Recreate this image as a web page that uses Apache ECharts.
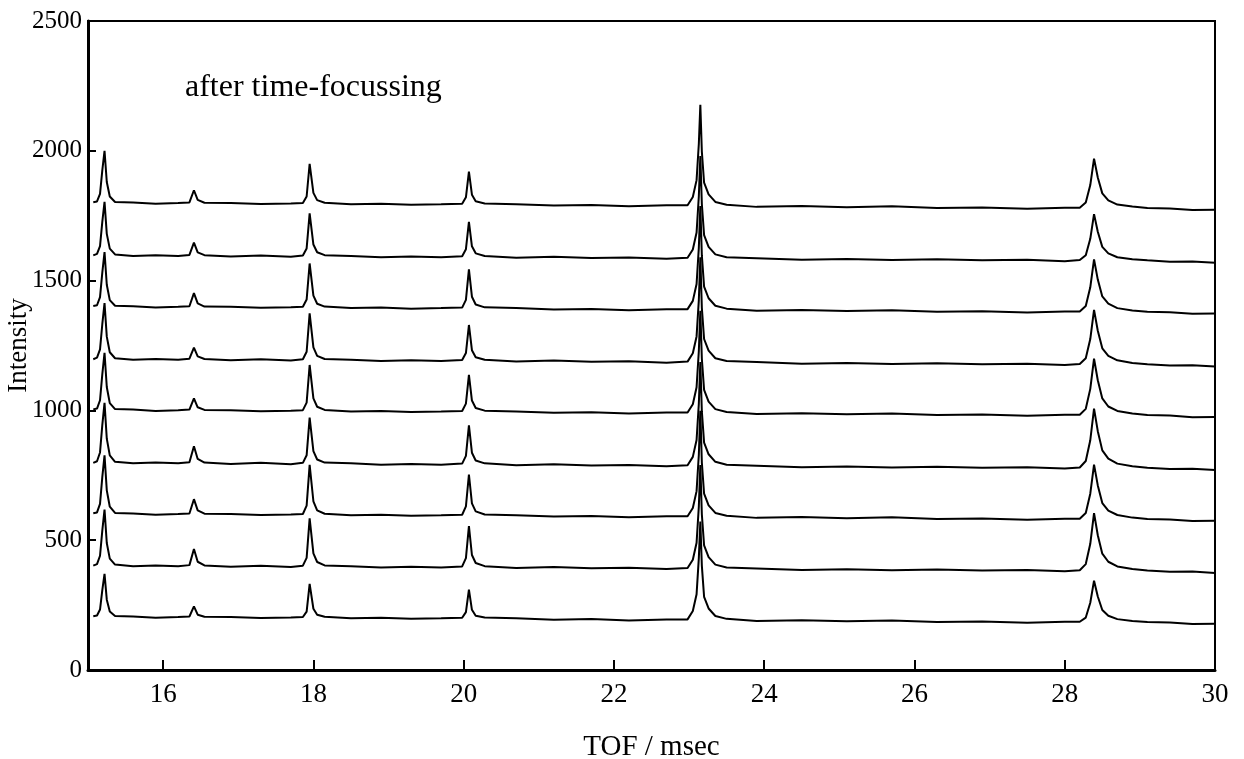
<!DOCTYPE html>
<html>
<head>
<meta charset="utf-8">
<script src="https://cdn.jsdelivr.net/npm/echarts@6/dist/echarts.min.js"></script>
<style>
  html, body { margin: 0; padding: 0; background: #fff; }
  #tofChart { width: 1244px; height: 759px; }
</style>
</head>
<body>
<div id="tofChart"></div>
<script>
// TOF grid (msec), shared by all nine scans
var tofGrid = [15.07, 15.12, 15.16, 15.19, 15.22, 15.25, 15.29, 15.36, 15.6, 15.9, 16.2, 16.35,
    16.41, 16.46, 16.55, 16.9, 17.3, 17.7, 17.86, 17.91, 17.95, 18.0, 18.05, 18.15, 18.5, 18.9, 19.3, 19.7, 19.98,
    20.03, 20.07, 20.11, 20.16, 20.28, 20.7, 21.2, 21.7, 22.2, 22.7, 22.98,
    23.05, 23.1, 23.13, 23.15, 23.17, 23.2, 23.26, 23.35, 23.5, 23.9, 24.5, 25.1, 25.7, 26.3, 26.9, 27.5, 28.0, 28.2,
    28.28, 28.34, 28.39, 28.44, 28.5, 28.58, 28.7, 28.9, 29.1, 29.4, 29.7, 30.0];

// intensities, bottom trace first
var scan1 = [207, 210, 233, 307, 370, 271, 225, 208, 206, 201, 204, 206,
    245, 213, 205, 204, 200, 202, 204, 225, 332, 236, 213, 205, 199, 201, 197, 199, 201,
    223, 310, 232, 209, 202, 199, 194, 196, 191, 195, 195,
    227, 292, 432, 572, 402, 282, 237, 208, 197, 189, 192, 188, 191, 185, 187, 182, 186, 186,
    202, 259, 344, 283, 231, 209, 196, 189, 185, 183, 177, 178];
var scan2 = [402, 408, 440, 536, 618, 489, 429, 406, 400, 403, 400, 404,
    466, 417, 403, 398, 402, 397, 402, 432, 584, 449, 416, 403, 400, 395, 398, 395, 399,
    431, 554, 443, 412, 400, 393, 397, 392, 394, 389, 393,
    425, 490, 630, 790, 600, 480, 435, 406, 395, 391, 385, 388, 384, 387, 383, 385, 380, 384,
    408, 486, 604, 519, 448, 417, 399, 389, 383, 378, 379, 374];
var scan3 = [604, 607, 640, 742, 827, 692, 629, 605, 603, 598, 601, 603,
    658, 615, 602, 601, 597, 599, 601, 633, 790, 650, 615, 602, 596, 598, 594, 596, 598,
    630, 753, 642, 611, 599, 596, 591, 593, 588, 592, 592,
    624, 689, 829, 999, 799, 679, 634, 605, 594, 586, 589, 585, 588, 582, 584, 579, 583, 583,
    605, 679, 791, 711, 643, 614, 597, 587, 582, 580, 574, 575];
var scan4 = [798, 804, 838, 942, 1029, 891, 827, 802, 796, 799, 796, 800,
    862, 813, 799, 794, 798, 793, 798, 827, 972, 843, 811, 799, 796, 791, 794, 791, 795,
    825, 942, 837, 807, 796, 789, 793, 788, 790, 785, 789,
    821, 886, 1026, 1186, 996, 876, 831, 802, 791, 787, 781, 784, 780, 783, 779, 781, 776, 780,
    805, 885, 1007, 920, 846, 814, 795, 785, 779, 774, 775, 770];
var scan5 = [1004, 1007, 1039, 1138, 1222, 1090, 1028, 1005, 1003, 998, 1001, 1003,
    1046, 1012, 1002, 1001, 997, 999, 1001, 1030, 1175, 1046, 1014, 1002, 996, 998, 994, 996, 998,
    1026, 1137, 1038, 1009, 999, 996, 991, 993, 988, 992, 992,
    1024, 1089, 1229, 1384, 1199, 1079, 1034, 1005, 994, 986, 989, 985, 988, 982, 984, 979, 983, 983,
    1006, 1083, 1199, 1116, 1046, 1015, 998, 988, 982, 980, 974, 975];
var scan6 = [1197, 1203, 1235, 1331, 1413, 1284, 1224, 1201, 1195, 1198, 1195, 1199,
    1242, 1208, 1198, 1193, 1197, 1192, 1197, 1226, 1374, 1243, 1210, 1198, 1195, 1190, 1193, 1190, 1194,
    1221, 1329, 1232, 1205, 1195, 1188, 1192, 1187, 1189, 1184, 1188,
    1220, 1285, 1425, 1590, 1395, 1275, 1230, 1201, 1190, 1186, 1180, 1183, 1179, 1182, 1178, 1180, 1175, 1179,
    1201, 1275, 1387, 1307, 1239, 1210, 1193, 1183, 1178, 1173, 1174, 1169];
var scan7 = [1402, 1405, 1436, 1530, 1610, 1484, 1425, 1403, 1401, 1396, 1399, 1401,
    1452, 1412, 1400, 1399, 1395, 1397, 1399, 1427, 1566, 1442, 1411, 1400, 1394, 1396, 1392, 1394, 1396,
    1426, 1543, 1438, 1408, 1397, 1394, 1389, 1391, 1386, 1390, 1390,
    1422, 1487, 1627, 1787, 1597, 1477, 1432, 1403, 1392, 1384, 1387, 1383, 1386, 1380, 1382, 1377, 1381, 1381,
    1402, 1474, 1582, 1504, 1439, 1411, 1394, 1385, 1380, 1378, 1372, 1373];
var scan8 = [1597, 1603, 1633, 1725, 1803, 1680, 1623, 1601, 1595, 1598, 1595, 1599,
    1646, 1609, 1598, 1593, 1597, 1592, 1597, 1624, 1759, 1639, 1609, 1598, 1595, 1590, 1593, 1590, 1594,
    1621, 1726, 1632, 1605, 1595, 1588, 1592, 1587, 1589, 1584, 1588,
    1620, 1685, 1825, 1980, 1795, 1675, 1630, 1601, 1590, 1586, 1580, 1583, 1579, 1582, 1578, 1580, 1575, 1579,
    1598, 1661, 1756, 1688, 1630, 1605, 1590, 1582, 1578, 1573, 1574, 1569];
var scan9 = [1802, 1805, 1834, 1924, 2000, 1880, 1824, 1803, 1801, 1796, 1799, 1801,
    1848, 1811, 1800, 1799, 1795, 1797, 1799, 1824, 1950, 1838, 1810, 1800, 1794, 1796, 1792, 1794, 1796,
    1821, 1920, 1831, 1806, 1797, 1794, 1789, 1791, 1786, 1790, 1790,
    1822, 1887, 2027, 2177, 1997, 1877, 1832, 1803, 1792, 1784, 1787, 1783, 1786, 1780, 1782, 1777, 1781, 1781,
    1801, 1868, 1970, 1897, 1836, 1809, 1793, 1785, 1780, 1778, 1772, 1773];

var xTicks = [16, 18, 20, 22, 24, 26, 28, 30];
var scans = [scan1, scan2, scan3, scan4, scan5, scan6, scan7, scan8, scan9];

var serif = 'Liberation Serif, Times New Roman, serif';

var chart = echarts.init(document.getElementById('tofChart'));

var series = scans.map(function (s, i) {
    return {
        name: 'scan' + (i + 1),
        type: 'line',
        showSymbol: false,
        smooth: false,
        lineStyle: { color: '#000', width: 2 },
        data: s.map(function (v, j) { return [tofGrid[j], v]; })
    };
});

var option = {
    animation: false,
    backgroundColor: '#fff',
    title: {
        text: 'after time-focussing',
        left: 180,
        top: 67,
        textStyle: { fontFamily: serif, fontSize: 32, fontWeight: 'normal', color: '#000' }
    },
    grid: {
        left: 88,
        right: 29,
        top: 21,
        bottom: 89,
        containLabel: false,
        outerBoundsMode: 'none',
        show: true,
        borderColor: '#000',
        borderWidth: 2
    },
    xAxis: {
        type: 'value',
        min: 15,
        max: 30,
        name: 'TOF / msec',
        nameLocation: 'middle',
        nameGap: 63,
        nameMoveOverlap: false,
        nameTextStyle: { fontFamily: serif, fontSize: 29, color: '#000' },
        axisLine: { lineStyle: { color: '#000', width: 3 } },
        axisTick: { inside: true, length: 10, customValues: xTicks, lineStyle: { color: '#000', width: 2 } },
        axisLabel: { customValues: xTicks, fontFamily: serif, fontSize: 27, color: '#000', margin: 11 },
        splitLine: { show: false }
    },
    yAxis: {
        type: 'value',
        min: 0,
        max: 2500,
        interval: 500,
        name: 'Intensity',
        nameLocation: 'middle',
        nameGap: 56,
        nameRotate: 90,
        nameMoveOverlap: false,
        nameTextStyle: { fontFamily: serif, fontSize: 27, color: '#000' },
        axisLine: { show: true, lineStyle: { color: '#000', width: 3 } },
        axisTick: { show: true, inside: true, length: 8, lineStyle: { color: '#000', width: 2 } },
        axisLabel: {
            fontFamily: serif, fontSize: 25, color: '#000', margin: 6,
            formatter: function (v) { return String(v); }
        },
        splitLine: { show: false }
    },
    series: series
};
chart.setOption(option);
</script>
</body>
</html>
